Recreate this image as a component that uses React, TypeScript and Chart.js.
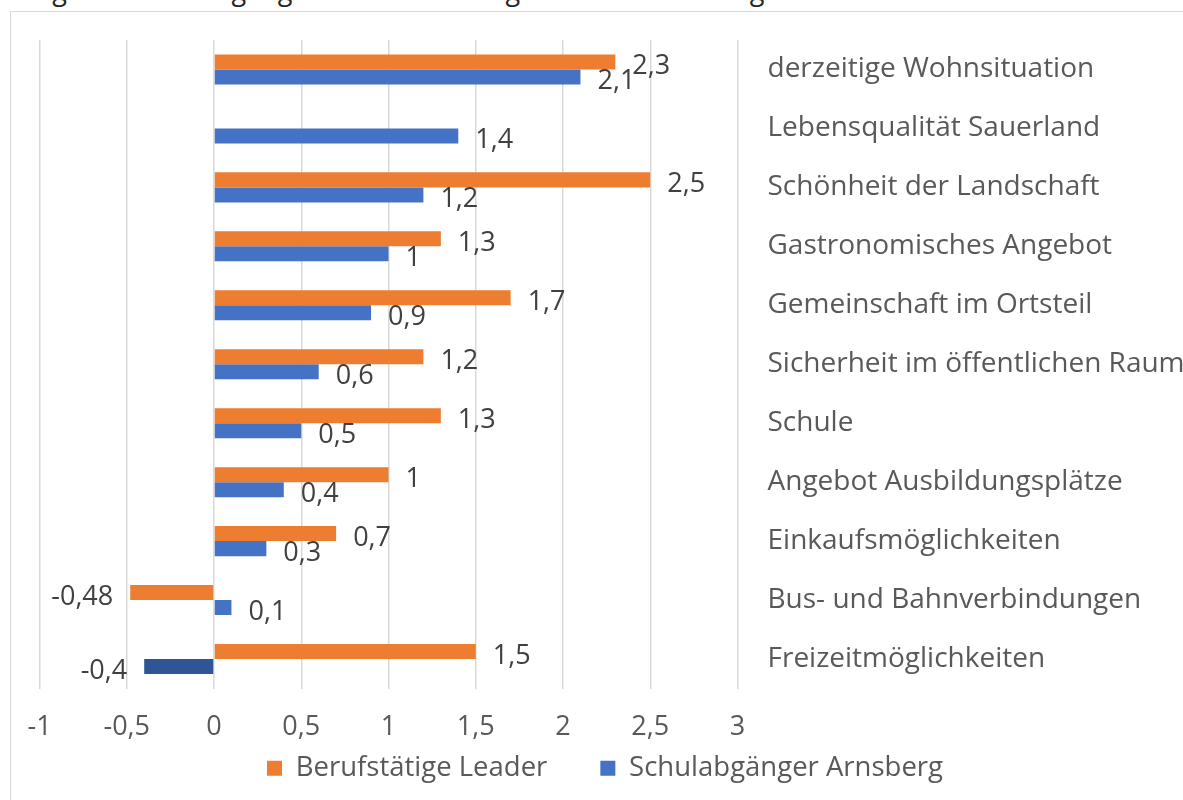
import React, { useEffect, useRef } from "react";
import { Chart, registerables } from "chart.js";

Chart.register(...registerables);

const TITLE = "Vergleich Schulabgänger und Berufstätige in der Leader-Region";

const categories = [
  "derzeitige Wohnsituation",
  "Lebensqualität Sauerland",
  "Schönheit der Landschaft",
  "Gastronomisches Angebot",
  "Gemeinschaft im Ortsteil",
  "Sicherheit im öffentlichen Raum",
  "Schule",
  "Angebot Ausbildungsplätze",
  "Einkaufsmöglichkeiten",
  "Bus- und Bahnverbindungen",
  "Freizeitmöglichkeiten",
];

const berufstaetigeLeader: (number | null)[] = [2.3, null, 2.5, 1.3, 1.7, 1.2, 1.3, 1.0, 0.7, -0.48, 1.5];
const schulabgaengerArnsberg: (number | null)[] = [2.1, 1.4, 1.2, 1.0, 0.9, 0.6, 0.5, 0.4, 0.3, 0.1, -0.4];

const seriesNames = ["Berufstätige Leader", "Schulabgänger Arnsberg"];

const xMin = -1;
const xMax = 3;
const xStep = 0.5;

const ORANGE = "#ED7D31";
const BLUE = "#4472C4";
const DARK_BLUE = "#2F5597";

const fmt = (v: number) => String(Math.round(v * 100) / 100).replace(".", ",");

const valueLabels = {
  id: "valueLabels",
  afterDatasetsDraw(chart: any) {
    const ctx = chart.ctx;
    ctx.save();
    ctx.font = "27px 'Open Sans'";
    ctx.fillStyle = "#404040";
    ctx.textBaseline = "alphabetic";
    chart.data.datasets.forEach((ds: any, di: number) => {
      const meta = chart.getDatasetMeta(di);
      meta.data.forEach((el: any, i: number) => {
        const v = ds.data[i];
        if (v === null || v === undefined) return;
        const y = el.y + 12;
        if (v >= 0) {
          ctx.textAlign = "left";
          ctx.fillText(fmt(v), el.x + 17, y);
        } else {
          ctx.textAlign = "right";
          ctx.fillText(fmt(v), el.x - 17, y);
        }
      });
    });
    ctx.restore();
  },
};

// draws the x scale's own tick values below the plot (avoids label clipping by the thin axis box)
const xTickLabels = {
  id: "xTickLabels",
  afterDraw(chart: any) {
    const sx = chart.scales.x;
    const ctx = chart.ctx;
    ctx.save();
    ctx.font = "27px 'Open Sans'";
    ctx.fillStyle = "#595959";
    ctx.textAlign = "center";
    ctx.textBaseline = "middle";
    sx.ticks.forEach((t: any) => {
      ctx.fillText(fmt(t.value), sx.getPixelForValue(t.value), chart.chartArea.bottom + 39);
    });
    ctx.restore();
  },
};

// centre the legend on the whole canvas width (not only the padded area)
const legendFullWidth = {
  id: "legendFullWidth",
  afterLayout(chart: any) {
    if (chart.legend) {
      chart.legend.left = 0;
      chart.legend.right = chart.width;
    }
  },
};

function BarChart() {
  const ref = useRef<HTMLCanvasElement | null>(null);
  useEffect(() => {
    if (!ref.current) return;
    Chart.defaults.font.family = "'Open Sans'";
    const chart = new Chart(ref.current, {
      type: "bar",
      data: {
        labels: categories,
        datasets: [
          {
            label: seriesNames[0],
            data: berufstaetigeLeader,
            backgroundColor: ORANGE,
            categoryPercentage: 0.51,
            barPercentage: 1,
          },
          {
            label: seriesNames[1],
            data: schulabgaengerArnsberg,
            backgroundColor: schulabgaengerArnsberg.map((v) => (v !== null && v < 0 ? DARK_BLUE : BLUE)),
            categoryPercentage: 0.51,
            barPercentage: 1,
          },
        ],
      } as any,
      options: {
        indexAxis: "y",
        animation: false,
        responsive: false,
        maintainAspectRatio: false,
        layout: { padding: { left: 28.5, top: 28, right: 0, bottom: 0 } },
        scales: {
          x: {
            min: xMin,
            max: xMax,
            position: "bottom",
            ticks: {
              stepSize: xStep,
              display: false,
            },
            grid: { color: "#d9d9d9", lineWidth: 1.5, drawTicks: false },
            border: { display: false },
            afterFit: (s: any) => {
              s.height = 13;
              s.paddingLeft = 0;
              s.paddingRight = 0;
            },
          },
          y: {
            position: "right",
            ticks: {
              padding: 30,
              color: "#595959",
              font: { size: 28 },
            },
            grid: { display: false, drawTicks: false },
            border: { display: false },
            afterFit: (s: any) => {
              s.width = 461.5;
              s.paddingTop = 0;
              s.paddingBottom = 0;
            },
          },
        },
        plugins: {
          legend: {
            position: "bottom",
            labels: {
              boxWidth: 15,
              boxHeight: 15,
              padding: 53,
              color: "#595959",
              font: { size: 27.5 },
            },
          },
          tooltip: { enabled: false },
        },
      } as any,
      plugins: [valueLabels, xTickLabels, legendFullWidth],
    });
    return () => chart.destroy();
  }, []);
  return <canvas ref={ref} width={1188} height={780} style={{ display: "block", width: 1188, height: 780 }} />;
}

export default function App() {
  return (
    <div
      style={{
        position: "fixed",
        left: 0,
        top: 0,
        width: 1183,
        height: 800,
        overflow: "hidden",
        background: "#ffffff",
      }}
    >
      <div
        style={{
          position: "absolute",
          left: 10,
          top: -24,
          fontFamily: "'Open Sans'",
          fontSize: 27,
          lineHeight: "27px",
          color: "#262626",
          whiteSpace: "nowrap",
        }}
      >
        {TITLE}
      </div>
      <div
        style={{
          position: "absolute",
          left: 10,
          top: 11,
          width: 1188,
          height: 820,
          border: "1px solid #d9d9d9",
          background: "#ffffff",
        }}
      >
        <BarChart />
      </div>
    </div>
  );
}
